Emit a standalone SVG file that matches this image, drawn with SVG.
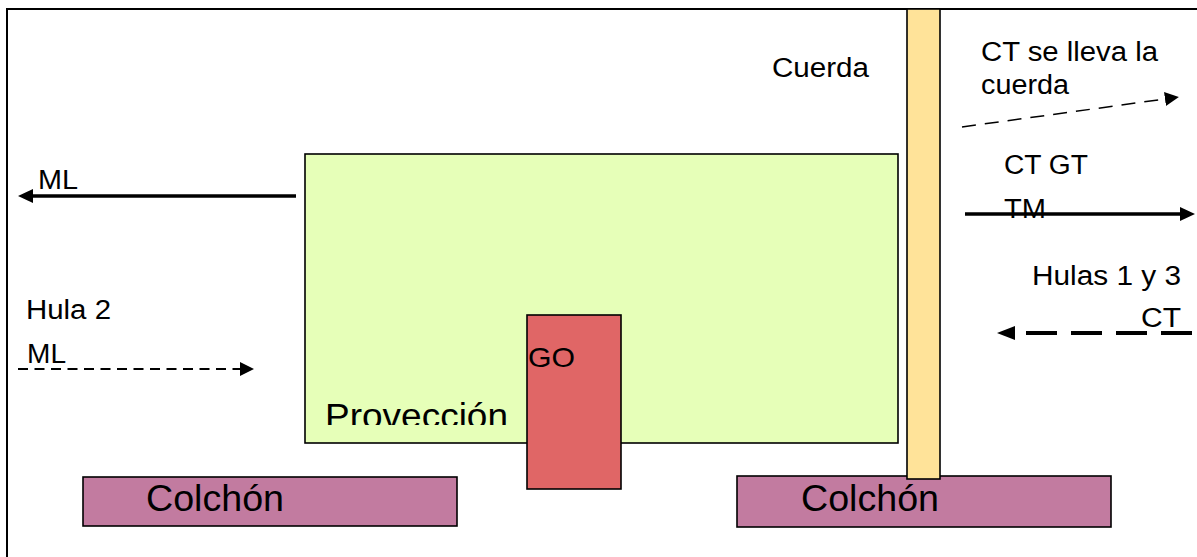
<svg xmlns="http://www.w3.org/2000/svg" width="1197" height="557" viewBox="0 0 1197 557">
<style>
.t{font-family:"Liberation Sans",Arial,sans-serif;fill:#000}
.box{stroke:#000;stroke-width:1.6}
.solid{stroke:#000;stroke-width:3.5;fill:none}
.dash{stroke:#000;fill:none}
</style>
<defs>
<marker id="ah" markerUnits="userSpaceOnUse" markerWidth="16" markerHeight="15" refX="0" refY="7" orient="auto"><path d="M0,0 L15,7 L0,14 z" fill="#000"/></marker>
<marker id="ahs" markerUnits="userSpaceOnUse" markerWidth="15" markerHeight="15" refX="0" refY="7" orient="auto"><path d="M0,0 L14,7 L0,14 z" fill="#000"/></marker>
<marker id="ahl" markerUnits="userSpaceOnUse" markerWidth="19" markerHeight="15" refX="0" refY="7" orient="auto"><path d="M0,0 L18,7 L0,14 z" fill="#000"/></marker>
<clipPath id="clipProv"><rect x="300" y="380" width="220" height="45"/></clipPath>
</defs>
<rect x="0" y="0" width="1197" height="557" fill="#fff"/>
<rect id="frame" x="7" y="9" width="1200" height="560" fill="none" stroke="#000" stroke-width="2"/>

<g id="proyeccion">
<rect class="box" x="305" y="154" width="593" height="289" fill="#E6FFB8"/>
<text class="t" x="325" y="428" font-size="35" textLength="183" lengthAdjust="spacingAndGlyphs" clip-path="url(#clipProv)">Provección</text>
</g>
<g id="go">
<rect class="box" x="527" y="315" width="94" height="174" fill="#E06666"/>
<text class="t" x="528" y="367" font-size="28" textLength="47" lengthAdjust="spacingAndGlyphs">GO</text>
</g>
<g id="colchon-izq">
<rect class="box" x="83" y="477" width="374" height="49" fill="#C27BA0"/>
<text class="t" x="146" y="511" font-size="36" textLength="138" lengthAdjust="spacingAndGlyphs">Colchón</text>
</g>
<g id="colchon-der">
<rect class="box" x="737" y="476" width="374" height="51" fill="#C27BA0"/>
<text class="t" x="801" y="511" font-size="36" textLength="138" lengthAdjust="spacingAndGlyphs">Colchón</text>
</g>
<g id="cuerda">
<rect class="box" x="907" y="9" width="33" height="470" fill="#FFE399"/>
<text class="t" x="772" y="77" font-size="27" textLength="97" lengthAdjust="spacingAndGlyphs">Cuerda</text>
</g>

<g id="labels">
<text class="t" x="981" y="61" font-size="27" textLength="177" lengthAdjust="spacingAndGlyphs">CT se lleva la</text>
<text class="t" x="981" y="94" font-size="27" textLength="88" lengthAdjust="spacingAndGlyphs">cuerda</text>
<text class="t" x="1004" y="174" font-size="27" textLength="84" lengthAdjust="spacingAndGlyphs">CT GT</text>
<text class="t" x="1004" y="218" font-size="27" textLength="42" lengthAdjust="spacingAndGlyphs">TM</text>
<text class="t" x="1032" y="285" font-size="27" textLength="149" lengthAdjust="spacingAndGlyphs">Hulas 1 y 3</text>
<text class="t" x="1141" y="327" font-size="27" textLength="40" lengthAdjust="spacingAndGlyphs">CT</text>
<text class="t" x="38" y="189" font-size="27" textLength="40" lengthAdjust="spacingAndGlyphs">ML</text>
<text class="t" x="26" y="319" font-size="27" textLength="85" lengthAdjust="spacingAndGlyphs">Hula 2</text>
<text class="t" x="27" y="363" font-size="27" textLength="39" lengthAdjust="spacingAndGlyphs">ML</text>
</g>

<g id="connectors">
<line class="solid" x1="296" y1="196" x2="33" y2="196" marker-end="url(#ah)"/>
<line class="solid" x1="965" y1="214" x2="1180" y2="214" marker-end="url(#ah)"/>
<line class="dash" x1="962" y1="127" x2="1165" y2="99" stroke-width="1.5" stroke-dasharray="14 9" marker-end="url(#ahs)"/>
<line class="dash" x1="18" y1="369" x2="240" y2="369" stroke-width="2" stroke-dasharray="10 6.5" marker-end="url(#ahs)"/>
<line class="dash" x1="1192" y1="333" x2="1015" y2="333" stroke-width="4" stroke-dasharray="31 14" marker-end="url(#ahl)"/>
</g>
</svg>
